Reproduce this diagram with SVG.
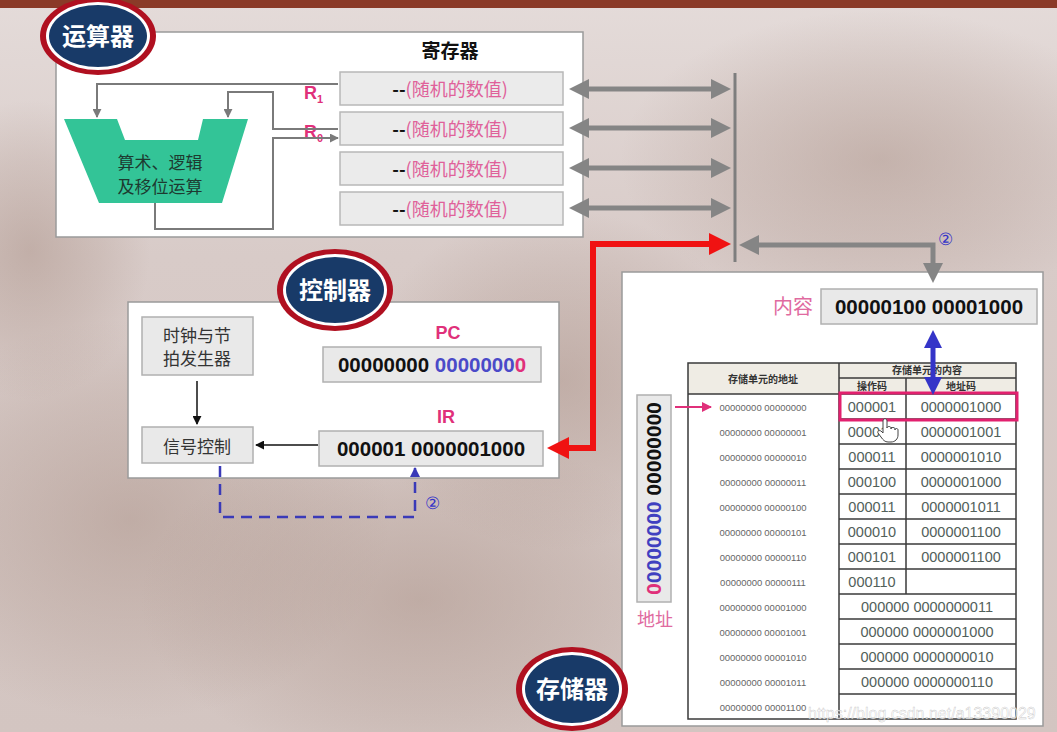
<svg xmlns="http://www.w3.org/2000/svg" width="1057" height="732" viewBox="0 0 1057 732">
<defs>
<style>
.cjk{font-family:"Noto Sans CJK SC","Liberation Sans",sans-serif}
.num{font-family:"Liberation Sans","Noto Sans",sans-serif}
.panel{fill:#ffffff;stroke:#9a9a9a;stroke-width:1.5}
.reg{fill:#ebebeb;stroke:#b8b8b8;stroke-width:1.5}
.gbox{fill:#e9e9e9;stroke:#b0b0b0;stroke-width:1.5}
.wire{fill:none;stroke:#7a7a7a;stroke-width:2}
.bus{fill:none;stroke:#858585;stroke-width:5}
.tbl{fill:none;stroke:#3a3a3a;stroke-width:1.5}
.addr{font-family:"Liberation Sans",sans-serif;font-size:9.5px;fill:#666;text-anchor:middle}
.cell{font-family:"Liberation Sans",sans-serif;font-size:14.5px;fill:#52605a;text-anchor:middle}
.title{font-family:"Noto Sans CJK SC",sans-serif;font-weight:bold;fill:#ffffff;text-anchor:middle}
</style>
<radialGradient id="blob" cx="0.5" cy="0.5" r="0.5">
<stop offset="0" stop-color="#a08478" stop-opacity="0.4"/>
<stop offset="0.6" stop-color="#a08478" stop-opacity="0.18"/>
<stop offset="1" stop-color="#a08478" stop-opacity="0"/>
</radialGradient>
<linearGradient id="bg" x1="0" y1="0" x2="0" y2="1">
<stop offset="0" stop-color="#e4dbd9"/>
<stop offset="0.35" stop-color="#d8cbc8"/>
<stop offset="1" stop-color="#d3c5c1"/>
</linearGradient>
<marker id="gh" viewBox="0 0 20 20" markerWidth="20" markerHeight="20" refX="2" refY="10" orient="auto-start-reverse" markerUnits="userSpaceOnUse">
<path d="M0,0 L20,10 L0,20 Z" fill="#858585"/>
</marker>
<marker id="rh" viewBox="0 0 22 22" markerWidth="22" markerHeight="22" refX="2" refY="11" orient="auto-start-reverse" markerUnits="userSpaceOnUse">
<path d="M0,0 L22,11 L0,22 Z" fill="#f01212"/>
</marker>
<marker id="bh" viewBox="0 0 18 18" markerWidth="18" markerHeight="18" refX="2" refY="9" orient="auto-start-reverse" markerUnits="userSpaceOnUse">
<path d="M0,0 L18,9 L0,18 Z" fill="#3434c8"/>
</marker>
<marker id="sh" viewBox="0 0 10 10" markerWidth="9" markerHeight="9" refX="9" refY="5" orient="auto" markerUnits="userSpaceOnUse">
<path d="M0,0 L10,5 L0,10 Z" fill="#7a7a7a"/>
</marker>
<marker id="kh" viewBox="0 0 10 10" markerWidth="9" markerHeight="9" refX="9" refY="5" orient="auto" markerUnits="userSpaceOnUse">
<path d="M0,0 L10,5 L0,10 Z" fill="#111"/>
</marker>
<marker id="ph" viewBox="0 0 10 10" markerWidth="10" markerHeight="10" refX="9" refY="5" orient="auto" markerUnits="userSpaceOnUse">
<path d="M0,0 L10,5 L0,10 Z" fill="#e0307a"/>
</marker>
<marker id="dh" viewBox="0 0 10 10" markerWidth="10" markerHeight="10" refX="9" refY="5" orient="auto" markerUnits="userSpaceOnUse">
<path d="M0,0 L10,5 L0,10 Z" fill="#3a3ab8"/>
</marker>
</defs>

<!-- background -->
<rect x="0" y="0" width="1057" height="732" fill="url(#bg)"/>
<ellipse cx="130" cy="520" rx="260" ry="200" fill="url(#blob)"/>
<ellipse cx="420" cy="600" rx="280" ry="170" fill="url(#blob)"/>
<ellipse cx="560" cy="380" rx="200" ry="170" fill="url(#blob)"/>
<ellipse cx="880" cy="160" rx="260" ry="150" fill="url(#blob)"/>
<ellipse cx="30" cy="250" rx="120" ry="150" fill="url(#blob)"/>
<rect x="0" y="0" width="1057" height="8" fill="#8a3a28"/>

<!-- ALU panel -->
<g id="alu">
<rect class="panel" x="56" y="32" width="527" height="205" stroke="#c4c4c4"/>
<polygon points="64,119 117,119 125,140 198,140 203,119 248,119 222,203 99,203" fill="#33c497"/>
<text class="cjk" x="160" y="169" font-size="17" fill="#1d3a30" text-anchor="middle">算术、逻辑</text>
<text class="cjk" x="160" y="193" font-size="17" fill="#1d3a30" text-anchor="middle">及移位运算</text>
<text class="cjk" x="450" y="58" font-size="19" font-weight="bold" fill="#111" text-anchor="middle">寄存器</text>
<text class="num" x="304" y="99" font-size="18" font-weight="bold" fill="#e0307a">R<tspan font-size="11" dy="4">1</tspan></text>
<text class="num" x="304" y="138" font-size="18" font-weight="bold" fill="#e0307a">R<tspan font-size="11" dy="4">0</tspan></text>
</g>

<g id="ellipse-alu">
<ellipse cx="98" cy="36" rx="58" ry="39" fill="#b01020"/>
<ellipse cx="98" cy="36" rx="52" ry="34" fill="#ffffff"/>
<ellipse cx="98" cy="36" rx="49" ry="31" fill="#183a68"/>
<text class="title" x="98" y="45" font-size="24">运算器</text>
</g>

<g id="registers">
<rect class="reg" x="340" y="72" width="223" height="33"/>
<rect class="reg" x="340" y="112" width="223" height="33"/>
<rect class="reg" x="340" y="152" width="223" height="33"/>
<rect class="reg" x="340" y="192" width="223" height="33"/>
<text class="cjk" x="450" y="96" font-size="18" text-anchor="middle"><tspan font-weight="bold" fill="#111">--</tspan><tspan fill="#e0609a">(随机的数值)</tspan></text>
<text class="cjk" x="450" y="136" font-size="18" text-anchor="middle"><tspan font-weight="bold" fill="#111">--</tspan><tspan fill="#e0609a">(随机的数值)</tspan></text>
<text class="cjk" x="450" y="176" font-size="18" text-anchor="middle"><tspan font-weight="bold" fill="#111">--</tspan><tspan fill="#e0609a">(随机的数值)</tspan></text>
<text class="cjk" x="450" y="216" font-size="18" text-anchor="middle"><tspan font-weight="bold" fill="#111">--</tspan><tspan fill="#e0609a">(随机的数值)</tspan></text>
</g>

<!-- controller -->
<g id="controller">
<rect class="panel" x="128" y="302" width="431" height="176" stroke="#8a8a8a"/>
<rect class="gbox" x="142" y="317" width="111" height="58" fill="#f2f2f2" stroke="#c8c8c8"/>
<text class="cjk" x="197" y="342" font-size="17" fill="#333" text-anchor="middle">时钟与节</text>
<text class="cjk" x="197" y="365" font-size="17" fill="#333" text-anchor="middle">拍发生器</text>
<rect class="gbox" x="142" y="427" width="111" height="36" fill="#f2f2f2" stroke="#c8c8c8"/>
<text class="cjk" x="197" y="453" font-size="17" fill="#333" text-anchor="middle">信号控制</text>
<text class="num" x="448" y="339" font-size="18" font-weight="bold" fill="#e0307a" text-anchor="middle">PC</text>
<rect class="gbox" x="323" y="347" width="218" height="35"/>
<text class="num" x="432" y="372" font-size="20.5" font-weight="bold" text-anchor="middle"><tspan fill="#111">00000000 </tspan><tspan fill="#4a4ac8">0000000</tspan><tspan fill="#e0307a">0</tspan></text>
<text class="num" x="446" y="423" font-size="18" font-weight="bold" fill="#e0307a" text-anchor="middle">IR</text>
<rect class="gbox" x="319" y="431" width="224" height="35"/>
<text class="num" x="431" y="456" font-size="20.5" font-weight="bold" fill="#111" text-anchor="middle">000001 0000001000</text>
</g>

<g id="ellipse-ctrl">
<ellipse cx="335" cy="290" rx="58" ry="41" fill="#b01020"/>
<ellipse cx="335" cy="290" rx="52" ry="36" fill="#ffffff"/>
<ellipse cx="335" cy="290" rx="49" ry="33" fill="#183a68"/>
<text class="title" x="335" y="299" font-size="24">控制器</text>
</g>

<!-- memory -->
<g id="memory">
<rect class="panel" x="622" y="272" width="421" height="454"/>
<text class="cjk" x="793" y="314" font-size="20" fill="#e06aa0" text-anchor="middle">内容</text>
<rect class="gbox" x="821" y="289" width="216" height="35"/>
<text class="num" x="929" y="314" font-size="20.5" font-weight="bold" fill="#111" text-anchor="middle">00000100 00001000</text>
<rect class="gbox" x="637" y="395" width="34" height="207"/>
<text class="num" transform="translate(647,498.5) rotate(90)" font-size="21" font-weight="bold" text-anchor="middle"><tspan fill="#111">00000000 </tspan><tspan fill="#4040c0">0000000</tspan><tspan fill="#e0307a">0</tspan></text>
<text class="cjk" x="655" y="626" font-size="18" fill="#e06aa0" text-anchor="middle">地址</text>
</g>

<g id="memory-table">
<rect x="688" y="363" width="328" height="31" fill="#efece4"/>
<rect x="688" y="363" width="328" height="356" class="tbl"/>
<line class="tbl" x1="839" y1="363" x2="839" y2="719"/>
<line class="tbl" x1="839" y1="378" x2="1016" y2="378"/>
<line class="tbl" x1="688" y1="394" x2="1016" y2="394"/>
<line class="tbl" x1="906" y1="378" x2="906" y2="594"/>
<g class="tbl">
<line x1="839" y1="419" x2="1016" y2="419"/>
<line x1="839" y1="444" x2="1016" y2="444"/>
<line x1="839" y1="469" x2="1016" y2="469"/>
<line x1="839" y1="494" x2="1016" y2="494"/>
<line x1="839" y1="519" x2="1016" y2="519"/>
<line x1="839" y1="544" x2="1016" y2="544"/>
<line x1="839" y1="569" x2="1016" y2="569"/>
<line x1="839" y1="594" x2="1016" y2="594"/>
<line x1="839" y1="619" x2="1016" y2="619"/>
<line x1="839" y1="644" x2="1016" y2="644"/>
<line x1="839" y1="669" x2="1016" y2="669"/>
<line x1="839" y1="694" x2="1016" y2="694"/>
</g>
<text class="cjk" x="763" y="383" font-size="10" font-weight="bold" fill="#333" text-anchor="middle">存储单元的地址</text>
<text class="cjk" x="927" y="374" font-size="10" font-weight="bold" fill="#333" text-anchor="middle">存储单元的内容</text>
<text class="cjk" x="872" y="390" font-size="10" font-weight="bold" fill="#333" text-anchor="middle">操作码</text>
<text class="cjk" x="961" y="390" font-size="10" font-weight="bold" fill="#333" text-anchor="middle">地址码</text>
<text class="addr" x="763" y="411">00000000 00000000</text>
<text class="addr" x="763" y="436">00000000 00000001</text>
<text class="addr" x="763" y="461">00000000 00000010</text>
<text class="addr" x="763" y="486">00000000 00000011</text>
<text class="addr" x="763" y="511">00000000 00000100</text>
<text class="addr" x="763" y="536">00000000 00000101</text>
<text class="addr" x="763" y="561">00000000 00000110</text>
<text class="addr" x="763" y="586">00000000 00000111</text>
<text class="addr" x="763" y="611">00000000 00001000</text>
<text class="addr" x="763" y="636">00000000 00001001</text>
<text class="addr" x="763" y="661">00000000 00001010</text>
<text class="addr" x="763" y="686">00000000 00001011</text>
<text class="addr" x="763" y="711">00000000 00001100</text>
<text class="cell" x="872" y="412">000001</text><text class="cell" x="961" y="412">0000001000</text>
<text class="cell" x="872" y="437">000010</text><text class="cell" x="961" y="437">0000001001</text>
<text class="cell" x="872" y="462">000011</text><text class="cell" x="961" y="462">0000001010</text>
<text class="cell" x="872" y="487">000100</text><text class="cell" x="961" y="487">0000001000</text>
<text class="cell" x="872" y="512">000011</text><text class="cell" x="961" y="512">0000001011</text>
<text class="cell" x="872" y="537">000010</text><text class="cell" x="961" y="537">0000001100</text>
<text class="cell" x="872" y="562">000101</text><text class="cell" x="961" y="562">0000001100</text>
<text class="cell" x="872" y="587">000110</text>
<text class="cell" x="927" y="612">000000 0000000011</text>
<text class="cell" x="927" y="637">000000 0000001000</text>
<text class="cell" x="927" y="662">000000 0000000010</text>
<text class="cell" x="927" y="687">000000 0000000110</text>
<rect x="840" y="393" width="177" height="27" fill="none" stroke="#e2206e" stroke-width="3"/>
<path d="M883,433 v-12 c0,-3 4,-3 4,0 v7 c0,-2 4,-2 4,0 v1 c0,-2 4,-2 4,0 v1 c0,-2 3,-2 3,0 v5 c0,4 -3,7 -7,7 h-3 c-3,0 -5,-2 -7,-5 l-3,-4 c-1,-2 1,-3 3,-2 z" fill="#ffffff" stroke="#444" stroke-width="1"/>
</g>

<g id="ellipse-mem">
<ellipse cx="572" cy="689" rx="56" ry="42" fill="#b01020"/>
<ellipse cx="572" cy="689" rx="50" ry="37" fill="#ffffff"/>
<ellipse cx="572" cy="689" rx="47" ry="34" fill="#183a68"/>
<text class="title" x="572" y="698" font-size="24">存储器</text>
</g>

<!-- connectors -->
<g id="connectors">
<path class="wire" d="M338,84 H97 V117" marker-end="url(#sh)"/>
<path class="wire" d="M338,129 H273 V92 H228 V117" marker-end="url(#sh)"/>
<path class="wire" d="M155,203 V229 H273 V138 H338" marker-end="url(#sh)"/>
<line x1="735" y1="73" x2="735" y2="262" stroke="#7e7e7e" stroke-width="3"/>
<line class="bus" x1="587" y1="89" x2="713" y2="89" marker-start="url(#gh)" marker-end="url(#gh)"/>
<line class="bus" x1="587" y1="128" x2="713" y2="128" marker-start="url(#gh)" marker-end="url(#gh)"/>
<line class="bus" x1="587" y1="168" x2="713" y2="168" marker-start="url(#gh)" marker-end="url(#gh)"/>
<line class="bus" x1="587" y1="208" x2="713" y2="208" marker-start="url(#gh)" marker-end="url(#gh)"/>
<path class="bus" d="M757,245 H933 V265" marker-start="url(#gh)" marker-end="url(#gh)"/>
<text class="num" x="945" y="245" font-size="17" fill="#3434c8" text-anchor="middle">②</text>
<path d="M567,448 H593 V244 H711" fill="none" stroke="#f01212" stroke-width="6" marker-start="url(#rh)" marker-end="url(#rh)"/>
<line x1="933" y1="346" x2="933" y2="379" stroke="#3434c8" stroke-width="5" marker-start="url(#bh)" marker-end="url(#bh)"/>
<line x1="197" y1="381" x2="197" y2="424" stroke="#111" stroke-width="1.5" marker-end="url(#kh)"/>
<line x1="318" y1="445" x2="256" y2="445" stroke="#111" stroke-width="1.5" marker-end="url(#kh)"/>
<line x1="675" y1="407" x2="711" y2="407" stroke="#e0307a" stroke-width="2" marker-end="url(#ph)"/>
<path d="M220,466 V517 H415 V468" fill="none" stroke="#3a3ab8" stroke-width="2.5" stroke-dasharray="11,7" marker-end="url(#dh)"/>
<text class="num" x="432" y="509" font-size="17" fill="#3434c8" text-anchor="middle">②</text>
</g>

<text class="num" x="808" y="719" font-size="16" fill="#ffffff" fill-opacity="0.75" stroke="#999" stroke-width="0.4" stroke-opacity="0.6">https://blog.csdn.net/a13390029</text>
</svg>
